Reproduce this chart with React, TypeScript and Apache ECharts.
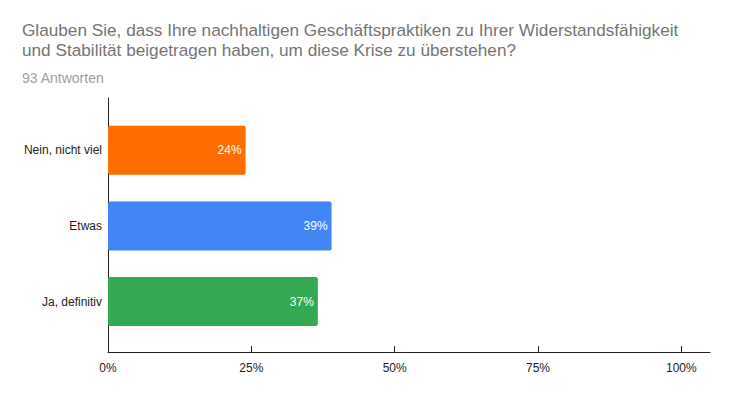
import React, { useEffect, useRef } from "react";
import * as echarts from "echarts";

const titleLines = [
  "Glauben Sie, dass Ihre nachhaltigen Geschäftspraktiken zu Ihrer Widerstandsfähigkeit",
  "und Stabilität beigetragen haben, um diese Krise zu überstehen?",
];
const responsesLabel = "93 Antworten";
const categories = ["Nein, nicht viel", "Etwas", "Ja, definitiv"];
const percentValues = [24.0, 39.0, 36.6];
const tickValues = [0, 25, 50, 75, 100];

const barColors = ["#ff6d01", "#4285f4", "#34a853"];
const FONT = "'Liberation Sans', Arial, sans-serif";

export default function App() {
  const ref = useRef<HTMLDivElement>(null);
  useEffect(() => {
    if (!ref.current) return;
    const chart = echarts.init(ref.current, null, { renderer: "svg" });
    chart.setOption({
      animation: false,
      backgroundColor: "#ffffff",
      textStyle: { fontFamily: FONT },
      title: [
        {
          text: titleLines.join("\n"),
          left: 22,
          top: 20,
          padding: 0,
          textStyle: { fontSize: 17.2, fontWeight: "normal", color: "#757575", lineHeight: 20, fontFamily: FONT },
        },
        {
          text: responsesLabel,
          left: 22,
          top: 70,
          padding: 0,
          textStyle: { fontSize: 14, fontWeight: "normal", color: "#9e9e9e", lineHeight: 16, fontFamily: FONT },
        },
      ],
      grid: [
        { left: 108, right: 20, top: 98, bottom: 46 },
        { left: 108, right: 20, top: 112.5, bottom: 58.7 },
      ],
      xAxis: [
        {
          gridIndex: 0,
          type: "value",
          min: 0,
          max: 105,
          axisLine: { show: true, lineStyle: { color: "#222", width: 1 } },
          axisTick: { show: true, inside: true, length: 6, lineStyle: { color: "#222" }, customValues: tickValues },
          axisLabel: {
            customValues: tickValues,
            formatter: (v: number) => `${v}%`,
            color: "#222",
            fontSize: 12,
            margin: 10,
            fontFamily: FONT,
          },
          splitLine: { show: false },
        },
        {
          gridIndex: 1,
          type: "value",
          min: 0,
          max: 105,
          show: false,
        },
      ],
      yAxis: [
        {
          gridIndex: 0,
          type: "value",
          axisLine: { show: true, lineStyle: { color: "#222", width: 1 } },
          axisTick: { show: false },
          axisLabel: { show: false },
          splitLine: { show: false },
        },
        {
          gridIndex: 1,
          type: "category",
          inverse: true,
          data: categories,
          axisLine: { show: false },
          axisTick: { show: false },
          axisLabel: { color: "#222", fontSize: 12, margin: 6, fontFamily: FONT },
        },
      ],
      series: [
        {
          type: "bar",
          xAxisIndex: 1,
          yAxisIndex: 1,
          barWidth: 49,
          data: percentValues.map((v, i) => ({
            value: v,
            itemStyle: { color: barColors[i], borderRadius: 2 },
          })),
          label: {
            show: true,
            position: "insideRight",
            distance: 4,
            color: "#ffffff",
            fontSize: 12,
            fontFamily: FONT,
            formatter: (p: any) => `${Math.round(p.value)}%`,
          },
        },
      ],
    });
    return () => chart.dispose();
  }, []);
  return <div ref={ref} style={{ width: 730, height: 398, position: "absolute", left: 0, top: 0 }} />;
}
